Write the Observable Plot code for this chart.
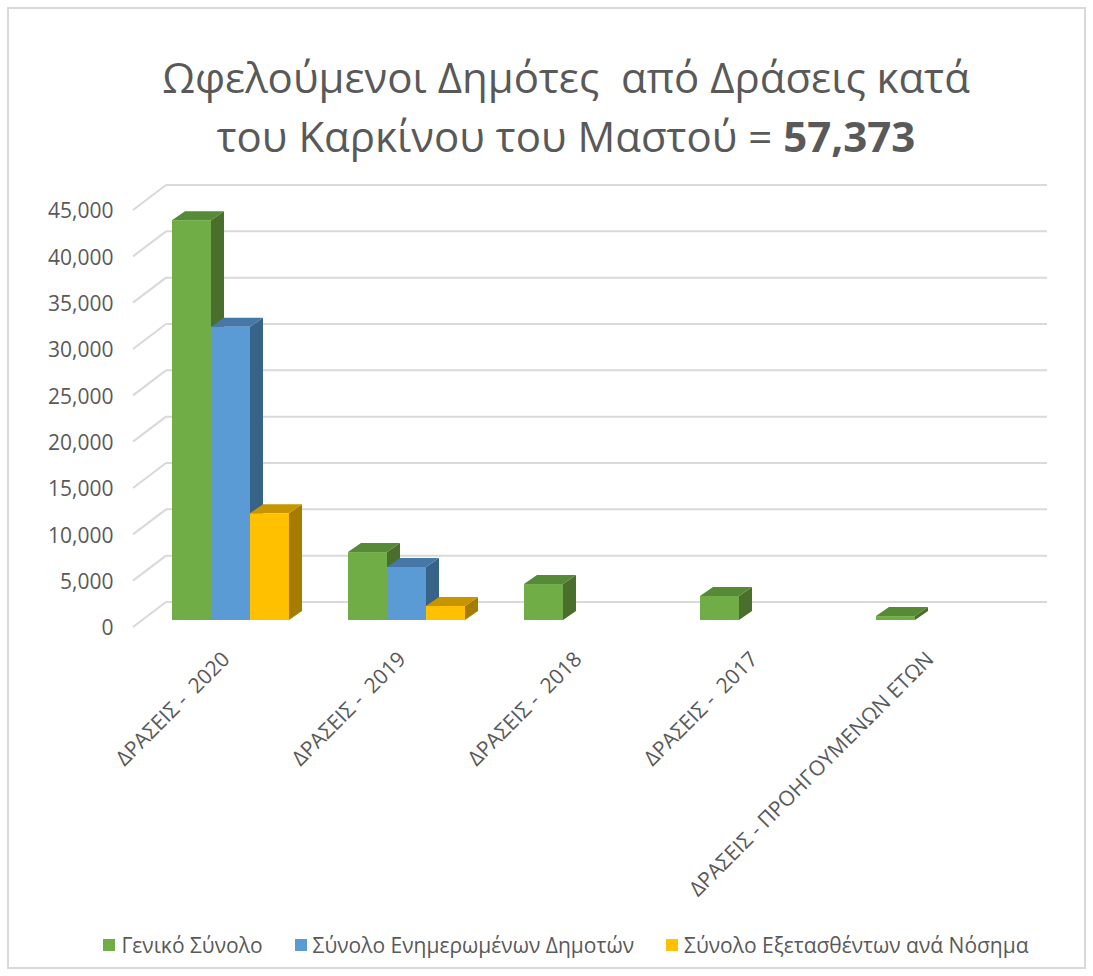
<!DOCTYPE html>
<html><head><meta charset="utf-8">
<script src="https://cdn.jsdelivr.net/npm/d3@7"></script>
<script src="https://cdn.jsdelivr.net/npm/@observablehq/plot@0.6"></script>
<style>
body{margin:0;background:#fff;overflow:hidden;font-family:"Open Sans",sans-serif;width:1093px;height:976px;}
#frame{position:absolute;left:7px;top:7px;width:1079px;height:962px;border:2px solid #d9d9d9;box-sizing:border-box;}
#title{position:absolute;left:40px;width:1052px;top:47px;text-align:center;color:#595959;font-size:42px;line-height:59px;white-space:pre;}
#chart{position:absolute;left:0;top:170px;}
#chart text{white-space:pre;}
#legend{position:absolute;left:40px;width:1052px;top:930px;text-align:center;color:#595959;font-size:21px;line-height:26px;white-space:nowrap;}
.item{display:inline-flex;align-items:center;margin:0 16px;}
.sw{width:12px;height:12px;margin-right:6px;display:inline-block;}
</style></head>
<body>
<div id="frame"></div>
<div id="title">Ωφελούμενοι Δημότες  από Δράσεις κατά<br>του Καρκίνου του Μαστού = <b>57,373</b></div>
<div id="chart"></div>
<div id="legend"></div>
<script>
// ---- data ----
const categories = ["ΔΡΑΣΕΙΣ -  2020", "ΔΡΑΣΕΙΣ -  2019", "ΔΡΑΣΕΙΣ -  2018", "ΔΡΑΣΕΙΣ -  2017", "ΔΡΑΣΕΙΣ - ΠΡΟΗΓΟΥΜΕΝΩΝ ΕΤΩΝ"];
const seriesNames = ["Γενικό Σύνολο", "Σύνολο Ενημερωμένων Δημοτών", "Σύνολο Εξετασθέντων ανά Νόσημα"];
const genikoSynolo = [43150, 7330, 3880, 2590, 423];
const enimeromenoi = [31650, 5720, 0, 0, 0];
const exetasthentes = [11520, 1510, 0, 0, 0];
const yTicks = [0, 5000, 10000, 15000, 20000, 25000, 30000, 35000, 40000, 45000];
const frontColors = ["#70ad47", "#5b9bd5", "#ffc000"];
const topColors = ["#578a37", "#4677a6", "#c79500"];
const sideColors = ["#4a6f2d", "#386389", "#a57c00"];

const seriesValues = [genikoSynolo, enimeromenoi, exetasthentes];
const rows = [];
categories.forEach((c, i) => seriesValues.forEach((vals, s) => {
  if (vals[i] > 0) rows.push({category: c, series: s, value: vals[i]});
}));

// 3D offsets (pixels) relative to the bar plane
const FRONT = {dx: -9, dy: 7};
const BACK = {dx: 24, dy: -18};
const DEPTH = {dx: 13, dy: -9};

function walls(index, scales, values, dimensions) {
  const {y} = scales;
  const xL = dimensions.marginLeft, xR = dimensions.width - dimensions.marginRight;
  const g = d3.create("svg:g").attr("stroke", "#d9d9d9").attr("stroke-width", 2).attr("fill", "none");
  for (const t of yTicks) {
    const yy = y(t);
    g.append("path").attr("d", `M${xL + BACK.dx},${yy + BACK.dy}H${xR + BACK.dx}`);
    g.append("path").attr("d", `M${xL + FRONT.dx},${yy + FRONT.dy}L${xL + BACK.dx},${yy + BACK.dy}`);
  }
  return g.node();
}

function bars3d(index, scales) {
  const {x, y} = scales;
  const bw = x.bandwidth ? x.bandwidth() : 117;
  const w = bw / 3;
  const g = d3.create("svg:g");
  for (const r of rows) {
    const x0 = x(r.category) + r.series * w, x1 = x0 + w;
    const y0 = y(0), yt = y(r.value);
    const dx = DEPTH.dx, dy = DEPTH.dy;
    g.append("path").attr("fill", sideColors[r.series])
      .attr("d", `M${x1},${y0}L${x1 + dx},${y0 + dy}L${x1 + dx},${yt + dy}L${x1},${yt}Z`);
    g.append("path").attr("fill", topColors[r.series])
      .attr("d", `M${x0},${yt}L${x0 + dx},${yt + dy}L${x1 + dx},${yt + dy}L${x1},${yt}Z`);
    g.append("rect").attr("fill", frontColors[r.series])
      .attr("x", x0).attr("y", yt).attr("width", w).attr("height", y0 - yt);
  }
  return g.node();
}

const fmt = d3.format(",");
const chart = Plot.plot({
  width: 1093,
  height: 750,
  marginLeft: 142,
  marginRight: 70,
  marginTop: 33,
  marginBottom: 300,
  x: {type: "band", domain: categories, paddingInner: 0.335, paddingOuter: 0.17, axis: null},
  y: {domain: [0, 45000], axis: null},
  style: {background: "transparent", fontFamily: "Open Sans"},
  marks: [
    walls,
    bars3d,
    Plot.text(yTicks, {y: d => d, text: d => fmt(d), frameAnchor: "left", textAnchor: "end", dx: -29, dy: 8, fontSize: 21, fill: "#595959"}),
    Plot.text(categories, {x: d => d, text: d => d, frameAnchor: "bottom", rotate: -45, textAnchor: "end", dy: 40, fontSize: 21, fill: "#595959"})
  ]
});
document.getElementById("chart").appendChild(chart);

const legend = document.getElementById("legend");
seriesNames.forEach((n, i) => {
  const it = document.createElement("span");
  it.className = "item";
  it.innerHTML = `<span class="sw" style="background:${frontColors[i]}"></span>${n}`;
  legend.appendChild(it);
});
</script>
</body></html>
